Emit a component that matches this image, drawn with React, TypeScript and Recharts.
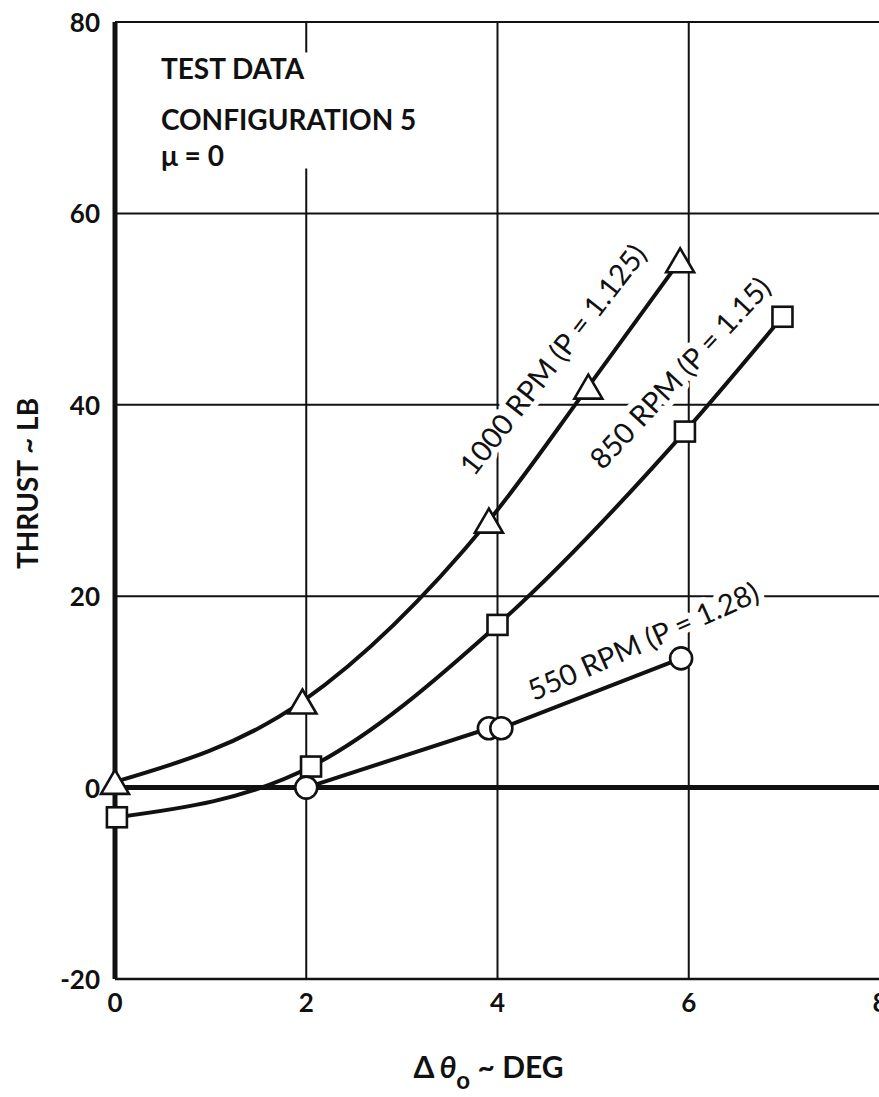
import React from 'react';
import {
  ComposedChart,
  Line,
  XAxis,
  YAxis,
  CartesianGrid,
  ReferenceLine,
  ReferenceDot,
  ReferenceArea,
} from 'recharts';

// Axis ticks
const deltaThetaTicks = [0, 2, 4, 6, 8];
const thrustTicks = [-20, 0, 20, 40, 60, 80];

// Test points, configuration 5 (mu = 0)
const rpm1000 = [
  { x: 0, y: 0.6 },
  { x: 1.96, y: 9.0 },
  { x: 3.91, y: 27.9 },
  { x: 4.95, y: 41.9 },
  { x: 5.91, y: 55.1 },
];
const rpm850 = [
  { x: 0.02, y: -3.1 },
  { x: 2.05, y: 2.2 },
  { x: 4.0, y: 17.0 },
  { x: 5.96, y: 37.2 },
  { x: 6.98, y: 49.2 },
];
const rpm550 = [
  { x: 2.0, y: 0 },
  { x: 3.91, y: 6.2 },
  { x: 4.04, y: 6.2 },
  { x: 5.92, y: 13.5 },
];

const curveLabels = [
  { text: '1000 RPM (P = 1.125)', x: 4.57, y: 44.8, angle: -52 },
  { text: '850 RPM (P = 1.15)', x: 5.9, y: 43.4, angle: -47 },
  { text: '550 RPM (P = 1.28)', x: 5.52, y: 15.4, angle: -24 },
];

const noteLines = [
  { text: 'TEST DATA', x: 0.48, y: 74.0 },
  { text: 'CONFIGURATION 5', x: 0.48, y: 68.7 },
  { text: '\u03bc = 0', x: 0.48, y: 65.0 },
];

const INK = '#111';
const FONT = 'Lato, "Noto Sans", sans-serif';

const Triangle = (props: any) => {
  const { cx, cy } = props;
  if (cx == null || cy == null) return null;
  const w = 14;
  const h = 24;
  return (
    <path
      d={`M${cx},${cy - h / 2} L${cx + w},${cy + h / 2} L${cx - w},${cy + h / 2} Z`}
      fill="#fff"
      stroke={INK}
      strokeWidth={2.6}
      strokeLinejoin="miter"
    />
  );
};

const Square = (props: any) => {
  const { cx, cy } = props;
  if (cx == null || cy == null) return null;
  const s = 20;
  return (
    <rect x={cx - s / 2} y={cy - s / 2} width={s} height={s} fill="#fff" stroke={INK} strokeWidth={2.6} />
  );
};

const Circle = (props: any) => {
  const { cx, cy } = props;
  if (cx == null || cy == null) return null;
  return <circle cx={cx} cy={cy} r={11} fill="#fff" stroke={INK} strokeWidth={2.6} />;
};

const XTick = (props: any) => {
  const { x, y, payload } = props;
  return (
    <text x={x} y={y + 33} textAnchor="middle" fontFamily={FONT} fontWeight={700} fontSize={26} fill={INK}>
      {payload.value}
    </text>
  );
};

const YTick = (props: any) => {
  const { x, y, payload } = props;
  return (
    <text x={x} y={y} textAnchor="end" dominantBaseline="central" fontFamily={FONT} fontWeight={700} fontSize={26} fill={INK}>
      {payload.value}
    </text>
  );
};

const XTitle = (props: any) => {
  const vb = props.viewBox || {};
  const cx = vb.x + vb.width / 2 - 9;
  const y = vb.y + 99;
  return (
    <text x={cx} y={y} textAnchor="middle" fontFamily={FONT} fontWeight={700} fontSize={30} fill={INK}>
      <tspan>{'\u0394'}</tspan>
      <tspan fontStyle="italic" dx={5}>{'\u03b8'}</tspan>
      <tspan dy={11} fontSize={24}>o</tspan>
      <tspan dy={-11}>{' ~ DEG'}</tspan>
    </text>
  );
};

const YTitle = (props: any) => {
  const vb = props.viewBox || {};
  const cx = 27;
  const cy = vb.y + vb.height / 2 - 17;
  return (
    <text
      x={cx}
      y={cy}
      transform={`rotate(-90 ${cx} ${cy})`}
      textAnchor="middle"
      dominantBaseline="central"
      fontFamily={FONT}
      fontWeight={700}
      fontSize={28}
      fill={INK}
    >
      THRUST ~ LB
    </text>
  );
};

const makeCurveLabel = (text: string, angle: number) => (props: any) => {
  const { cx, cy } = props;
  return (
    <text
      x={cx}
      y={cy}
      transform={`rotate(${angle} ${cx} ${cy})`}
      textAnchor="middle"
      dominantBaseline="central"
      fontFamily={FONT}
      fontWeight={400}
      fontSize={29}
      fill={INK}
      stroke="#fff"
      strokeWidth={12}
      strokeLinejoin="round"
      paintOrder="stroke"
    >
      {text}
    </text>
  );
};

const makeNote = (text: string) => (props: any) => {
  const { cx, cy } = props;
  return (
    <text x={cx} y={cy} textAnchor="start" fontFamily={FONT} fontWeight={700} fontSize={28} fill={INK}>
      {text}
    </text>
  );
};

export default function App() {
  return (
    <div
      style={{
        position: 'fixed',
        left: 0,
        top: 0,
        width: 879,
        height: 1097,
        overflow: 'hidden',
        background: '#fff',
      }}
    >
      <ComposedChart width={920} height={1097} margin={{ top: 22, right: 40, bottom: 58, left: 0 }}>
        <CartesianGrid stroke={INK} strokeWidth={2} />
        <XAxis
          type="number"
          dataKey="x"
          domain={[0, 8]}
          ticks={deltaThetaTicks}
          height={60}
          tickLine={false}
          tickSize={0}
          tickMargin={0}
          axisLine={{ stroke: INK, strokeWidth: 2.5 }}
          tick={<XTick />}
          label={XTitle}
        />
        <YAxis
          type="number"
          dataKey="y"
          domain={[-20, 80]}
          ticks={thrustTicks}
          width={115}
          tickLine={false}
          tickSize={0}
          tickMargin={15}
          axisLine={{ stroke: INK, strokeWidth: 5 }}
          tick={<YTick />}
          label={YTitle}
        />
        <ReferenceLine y={0} stroke={INK} strokeWidth={5} />
        <ReferenceArea x1={0.45} x2={2.9} y1={64.7} y2={76.8} fill="#fff" fillOpacity={1} stroke="none" />
        {noteLines.map((n) => (
          <ReferenceDot key={n.text} x={n.x} y={n.y} r={0} shape={makeNote(n.text)} />
        ))}
        {curveLabels.map((c) => (
          <ReferenceDot key={c.text} x={c.x} y={c.y} r={0} shape={makeCurveLabel(c.text, c.angle)} />
        ))}
        <Line
          data={rpm1000}
          dataKey="y"
          type="monotone"
          stroke={INK}
          strokeWidth={4}
          isAnimationActive={false}
          dot={(p: any) => <Triangle key={`t${p.index}`} {...p} />}
          activeDot={false}
        />
        <Line
          data={rpm850}
          dataKey="y"
          type="monotone"
          stroke={INK}
          strokeWidth={4}
          isAnimationActive={false}
          dot={(p: any) => <Square key={`s${p.index}`} {...p} />}
          activeDot={false}
        />
        <Line
          data={rpm550}
          dataKey="y"
          type="linear"
          stroke={INK}
          strokeWidth={4}
          isAnimationActive={false}
          dot={(p: any) => <Circle key={`c${p.index}`} {...p} />}
          activeDot={false}
        />
      </ComposedChart>
    </div>
  );
}
